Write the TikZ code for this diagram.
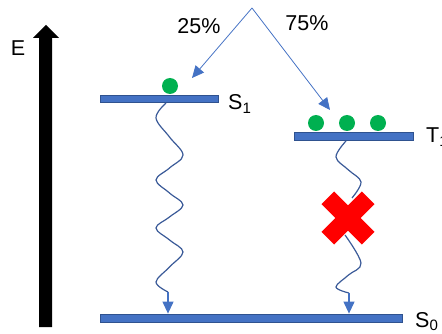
\documentclass[tikz,border=0pt]{standalone}
\usepackage{fontspec}
\setmainfont{Liberation Sans}
\usetikzlibrary{arrows.meta}
\definecolor{barblue}{HTML}{4472C4}
\definecolor{bardark}{HTML}{2F528F}
\definecolor{wavecol}{HTML}{3A5A98}
\definecolor{dotgreen}{HTML}{00B050}
\tikzset{
  levelbar/.style={draw=bardark, line width=0.8pt, fill=barblue, minimum height=7pt, inner sep=0pt},
  dot/.style={circle, fill=dotgreen, minimum size=16pt, inner sep=0pt},
  lbl/.style={font=\fontsize{21.5}{21.5}\selectfont, inner sep=0pt},
  thinarrow/.style={draw=barblue, line width=0.8pt, -{Triangle[length=12pt,width=11pt]}},
  wave/.style={draw=wavecol, line width=1.2pt},
  crossarm/.style={fill=red, minimum width=57pt, minimum height=18pt, inner sep=0pt, rectangle},
}
\begin{document}
\begin{tikzpicture}[x=1pt,y=-1pt]
\useasboundingbox (0,0) rectangle (442,334);
\clip (0,0) rectangle (442,334);
% energy arrow
\fill[black] (39,327) -- (52,327) -- (52,38) -- (59,38) -- (46,25) -- (33,38) -- (39,38) -- cycle;
\node[lbl] (E) at (18,48) {E};
% levels
\node[levelbar, minimum width=118pt] (s1) at (159,99) {};
\node[levelbar, minimum width=119pt, minimum height=8pt] (t1) at (353.5,136) {};
\node[levelbar, minimum width=302pt, minimum height=8pt] (s0) at (251,318) {};
\node[lbl, anchor=base west] (s1l) at (228,110) {S\textsubscript{1}};
\node[lbl, anchor=base west] (t1l) at (426,143) {T\textsubscript{1}};
\node[lbl, anchor=base west] (s0l) at (415,327) {S\textsubscript{0}};
% dots
\node[dot] (d0) at (170,86) {};
\node[dot] (d1) at (316,123) {};
\node[dot] (d2) at (347,123) {};
\node[dot] (d3) at (378,123) {};
% top arrows
\coordinate (apex) at (252,8);
\coordinate (la) at (192,78);
\coordinate (ra) at (330,110);
\draw[thinarrow] (apex) -- (la);
\draw[thinarrow] (apex) -- (ra);
\node[lbl] (p25) at (199,26) {25\%};
\node[lbl] (p75) at (307,23) {75\%};
% left wave
\coordinate (lw0) at (166,103);
\coordinate (lw1) at (168,292);
\draw[wave] plot[smooth, tension=0.6] coordinates {(lw0) (156,118) (169.5,137) (183,155) (169.5,168) (156,180) (169.5,193) (183,205) (169.5,217) (156,228) (169.5,240) (183,252) (169.5,267) (156,282) (lw1)};
\draw[thinarrow, line width=1.1pt] (lw1) -- (lw1 |- s0.north);
% right wave
\coordinate (rw0) at (346,141);
\coordinate (rw1) at (349,293);
\draw[wave] plot[smooth, tension=0.6] coordinates {(rw0) (336,157) (348.5,170) (361,182) (352,198)};
\draw[wave] plot[smooth, tension=0.6] coordinates {(345,235) (361,263) (348.5,275) (336,287) (rw1)};
\draw[thinarrow, line width=1.1pt] (rw1) -- (rw1 |- s0.north);
% red cross
\node[crossarm, rotate=45] (xa) at (348,218) {};
\node[crossarm, rotate=-45] (xb) at (348,218) {};
\end{tikzpicture}
\end{document}
